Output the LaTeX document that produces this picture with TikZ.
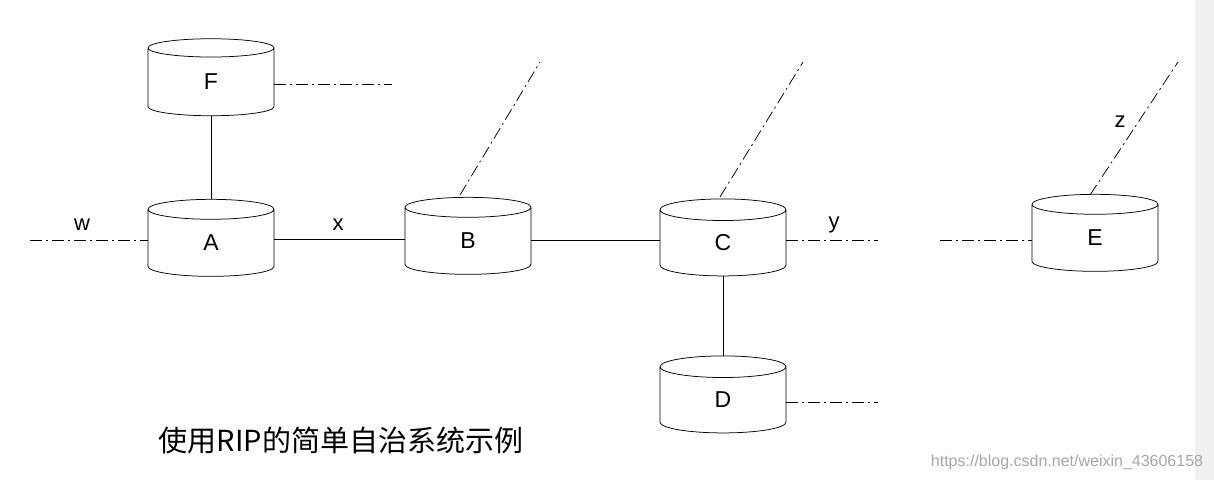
\documentclass[tikz,border=0pt]{standalone}
\usepackage{fontspec}
\setmainfont{Liberation Sans}
\newfontfamily\cjk{Noto Sans CJK SC}
\usetikzlibrary{shapes.geometric}
\tikzset{every picture/.style={line width=0.75pt}}
\tikzset{router/.style={cylinder, shape border rotate=90, draw, aspect=1.3,
    minimum width=126pt, minimum height=77pt, inner sep=0pt, font=\fontsize{23}{23}\selectfont},
  link/.style={dash pattern=on 12pt off 4pt on 2pt off 4pt},
  lbl/.style={font=\fontsize{22}{22}\selectfont}}
\begin{document}
\begin{tikzpicture}[x=1pt,y=1pt,yscale=-1,xscale=1]
\useasboundingbox (0,0) rectangle (1214,480);
\fill[black!6] (1195,0) rectangle (1214,480);

% routers
\node[router] (F) at (211,82) {F};
\node[router] (A) at (211,243) {A};
\node[router] (B) at (468,241) {B};
\node[router] (C) at (723,243) {C};
\node[router] (D) at (723,400) {D};
\node[router] (E) at (1095,238) {E};

% loose ends
\coordinate (wEnd) at (30,240);
\coordinate (fEnd) at (392,84);
\coordinate (bEnd) at (540,62);
\coordinate (cEnd) at (803,62);
\coordinate (yEnd) at (878,240);
\coordinate (eLeft) at (940,240);
\coordinate (eEnd) at (1178,62);
\coordinate (dEnd) at (878,402);

% solid links
\draw (F.bottom) -- (A.top);
\draw (A.east |- 0,239) -- (B.west |- 0,239);
\draw (B.east |- 0,240) -- (C.west |- 0,240);
\draw (C.bottom) -- (D.top);

% dash dot links
\draw[link] (wEnd) -- (A.west |- wEnd);
\draw[link] (F.east |- fEnd) -- (fEnd);
\draw[link] (460,195) -- (bEnd);
\draw[link] (720,197) -- (cEnd);
\draw[link] (C.east |- yEnd) -- (yEnd);
\draw[link] (eLeft) -- (E.west |- eLeft);
\draw[link] (1090,195) -- (eEnd);
\draw[link] (D.east |- dEnd) -- (dEnd);

% labels
\node[lbl] (w) at (82,225) {w};
\node[lbl] (x) at (338,225) {x};
\node[lbl] (y) at (834,225) {y};
\node[lbl] (z) at (1120,122) {z};
\node[font=\cjk\fontsize{29}{29}\selectfont] (cap) at (341,440) {使用RIP的简单自治系统示例};
\node[text=black!35, font=\fontsize{16}{16}\selectfont] (url) at (1067,462) {https://blog.csdn.net/weixin\_43606158};
\end{tikzpicture}
\end{document}
